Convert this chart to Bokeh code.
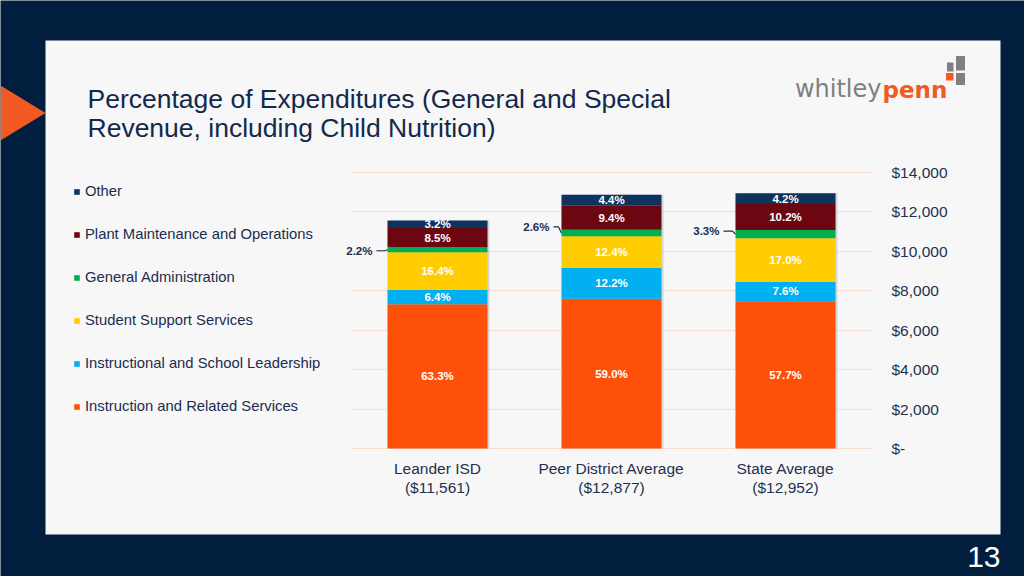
from bokeh.plotting import figure
from bokeh.models import (ColumnDataSource, Range1d, FixedTicker, LabelSet, Label, Grid,
                          Legend, LegendItem, BoxAnnotation, PolyAnnotation)
from bokeh.core.properties import value
from bokeh.embed import file_html
from bokeh.resources import INLINE

# ---------------- data ----------------
categories = ["Leander ISD", "Peer District Average", "State Average"]
totals = [11561, 12877, 12952]

series = ["Instruction and Related Services", "Instructional and School Leadership",
          "Student Support Services", "General Administration",
          "Plant Maintenance and Operations", "Other"]
instruction = [63.3, 59.0, 57.7]
leadership = [6.4, 12.2, 7.6]
student_support = [16.4, 12.4, 17.0]
general_admin = [2.2, 2.6, 3.3]
plant = [8.5, 9.4, 10.2]
other = [3.2, 4.4, 4.2]

y_ticks = [0, 2000, 4000, 6000, 8000, 10000, 12000, 14000]
y_tick_labels = ["$-", "$2,000", "$4,000", "$6,000", "$8,000", "$10,000", "$12,000", "$14,000"]

title_lines = ["Percentage of Expenditures (General and Special",
               "Revenue, including Child Nutrition)"]
page_number = "13"

# ---------------- style / layout ----------------
colors = ["#ff500a", "#00b0f0", "#ffcc00", "#00b050", "#6c0712", "#0f335f"]
NAVY = "#021e3e"
PANEL = "#f7f7f7"
TEXT = "#1b2d4f"
FONT = "Liberation Sans"
W, H = 1024, 576
PLOT_L, PLOT_R, PLOT_T, PLOT_B = 350, 872, 172, 448   # chart area in page pixels
Y_MAX = 14000
BAR_W = 0.575
NCAT = len(categories)
PX_X = NCAT / float(PLOT_R - PLOT_L)      # x units per pixel
PX_Y = Y_MAX / float(PLOT_B - PLOT_T)     # y units per pixel
label_dx = [-65, -62, -66]   # outside-label offsets (px) for the thin segments
label_dy = [-1, 6, 3]


def to_x(px):
    return (px - PLOT_L) * PX_X


def to_y(py):
    return (PLOT_B - py) * PX_Y


pcts = [instruction, leadership, student_support, general_admin, plant, other]
keys = ["s%d" % k for k in range(len(series))]
xpos = [i + 0.5 for i in range(NCAT)]

data = {"x": xpos, "total": totals, "xs": [x + 2 * PX_X for x in xpos]}
for k, arr in zip(keys, pcts):
    data[k] = [t * v / 100.0 for t, v in zip(totals, arr)]
src = ColumnDataSource(data)

p = figure(width=W, height=H, x_range=Range1d(to_x(0), to_x(W)), y_range=Range1d(to_y(H), to_y(0)),
           x_axis_location=None, y_axis_location=None,
           output_backend="svg", toolbar_location=None, min_border=0)
p.extra_x_ranges = {"px": Range1d(0, W)}
p.extra_y_ranges = {"px": Range1d(H, 0)}
p.background_fill_color = NAVY
p.border_fill_color = NAVY
p.outline_line_color = None
for g in p.grid:
    g.visible = False

PX = dict(x_range_name="px", y_range_name="px")
# slide panel, arrow, logo, page number
p.add_layout(BoxAnnotation(left=45, right=1000, top=40, bottom=534, fill_color=PANEL, fill_alpha=1,
                           line_color=None, level="underlay", **PX))
p.add_layout(PolyAnnotation(xs=[to_x(0), to_x(0), to_x(45)], ys=[to_y(85), to_y(140), to_y(112.5)],
                            fill_color="#f15a22", fill_alpha=1, line_color=None))
for (l, r, t, b, c) in [(946.5, 953, 62, 71, "#808080"), (955.5, 964.5, 55.5, 70, "#808080"),
                        (945.5, 953, 72.5, 80, "#f15a22"), (955.5, 964.5, 72.5, 84.5, "#808080")]:
    p.add_layout(BoxAnnotation(left=l, right=r, top=t, bottom=b, fill_color=c, fill_alpha=1,
                               line_color=None, **PX))
p.add_layout(Label(x=881, y=88.7, text="whitley", text_align="right", text_baseline="middle",
                   text_font="DejaVu Sans", text_font_size="24px", text_color="#7f7f7f", **PX))
p.add_layout(Label(x=882, y=89, text="penn", text_align="left", text_baseline="middle",
                   text_font="DejaVu Sans", text_font_style="bold", text_font_size="23px",
                   text_color="#f15a22", **PX))
for i, line in enumerate(title_lines):
    p.add_layout(Label(x=87, y=98.5 + 28.5 * i, text=line, text_align="left", text_baseline="middle",
                       text_font=FONT, text_font_size="26.5px", text_color="#13294b", **PX))
p.add_layout(Label(x=1000, y=556, text=page_number, text_align="right", text_baseline="middle",
                   text_font=FONT, text_font_size="30px", text_color="white", **PX))

# grid lines across the chart area only
grid = Grid(dimension=1, ticker=FixedTicker(ticks=y_ticks), grid_line_color="#f9dcd2",
            bounds=(0, Y_MAX))
try:
    grid.cross_bounds = (0, NCAT)
    p.add_layout(grid)
except Exception:
    p.segment(x0=0, x1=NCAT, y0=y_ticks, y1=y_ticks, line_color="#f9dcd2", line_width=1)

# bar shadow + stacked bars
p.vbar(x="xs", top="total", width=BAR_W, source=src,
       fill_color="#9a9a9a", fill_alpha=0.35, line_color=None)
rs = p.vbar_stack(keys, x="x", width=BAR_W, fill_color=colors, line_color=None, source=src)

# segment labels
lx, ly, lt = [], [], []
ox, oy, ot = [], [], []
for i in range(NCAT):
    cum = 0.0
    for k, arr in enumerate(pcts):
        h = data[keys[k]][i]
        mid = cum + h / 2
        if series[k] == "General Administration":
            ox.append(xpos[i] - BAR_W / 2); oy.append(mid); ot.append("%.1f%%" % arr[i])
        else:
            lx.append(xpos[i]); ly.append(mid); lt.append("%.1f%%" % arr[i])
        cum += h

p.add_layout(LabelSet(x="x", y="y", text="t", source=ColumnDataSource(dict(x=lx, y=ly, t=lt)),
                      text_align="center", text_baseline="middle", text_color="white",
                      text_font=value(FONT), text_font_style="bold", text_font_size="11.5px"))
p.add_layout(LabelSet(x="x", y="y", text="t", x_offset="dx", y_offset="dy",
                      source=ColumnDataSource(dict(x=ox, y=oy, t=ot,
                                                   dx=[d + BAR_W / 2 / PX_X for d in label_dx],
                                                   dy=label_dy)),
                      text_align="right", text_baseline="middle", text_color=TEXT,
                      text_font=value(FONT), text_font_style="bold", text_font_size="11.5px"))
xs, ys = [], []
for i in range(NCAT):
    left = ox[i]
    start = xpos[i] + (label_dx[i] + 4) * PX_X
    xs.append([start, left - 3 * PX_X, left])
    yy = oy[i] + label_dy[i] * PX_Y
    ys.append([yy, yy, oy[i]])
p.multi_line(xs, ys, line_color=TEXT, line_width=1.2)

# axis tick labels
p.add_layout(LabelSet(x="x", y="y", text="t", x_offset=19,
                      source=ColumnDataSource(dict(x=[NCAT] * len(y_ticks), y=y_ticks, t=y_tick_labels)),
                      text_align="left", text_baseline="middle", text_color="#1f3050",
                      text_font=value(FONT), text_font_size="15.5px"))
p.add_layout(LabelSet(x="x", y="y", text="t", y_offset=-19.7,
                      source=ColumnDataSource(dict(x=xpos, y=[0] * NCAT, t=categories)),
                      text_align="center", text_baseline="middle", text_color="#1f3050",
                      text_font=value(FONT), text_font_size="15.5px"))
p.add_layout(LabelSet(x="x", y="y", text="t", y_offset=-38.7,
                      source=ColumnDataSource(dict(x=xpos, y=[0] * NCAT,
                                                   t=["($%s)" % format(t, ",") for t in totals])),
                      text_align="center", text_baseline="middle", text_color="#1f3050",
                      text_font=value(FONT), text_font_size="15.5px"))

# legend
items = [LegendItem(label=series[k], renderers=[rs[k]]) for k in reversed(range(len(series)))]
legend = Legend(items=items, location=(73, H - 416), glyph_width=7, glyph_height=7, label_height=20,
                spacing=23, padding=0, margin=0, label_standoff=5,
                label_text_font=FONT, label_text_font_size="14.8px", label_text_color=TEXT,
                background_fill_alpha=0, border_line_alpha=0)
p.add_layout(legend)

open("out.html", "w").write(file_html(p, INLINE))
